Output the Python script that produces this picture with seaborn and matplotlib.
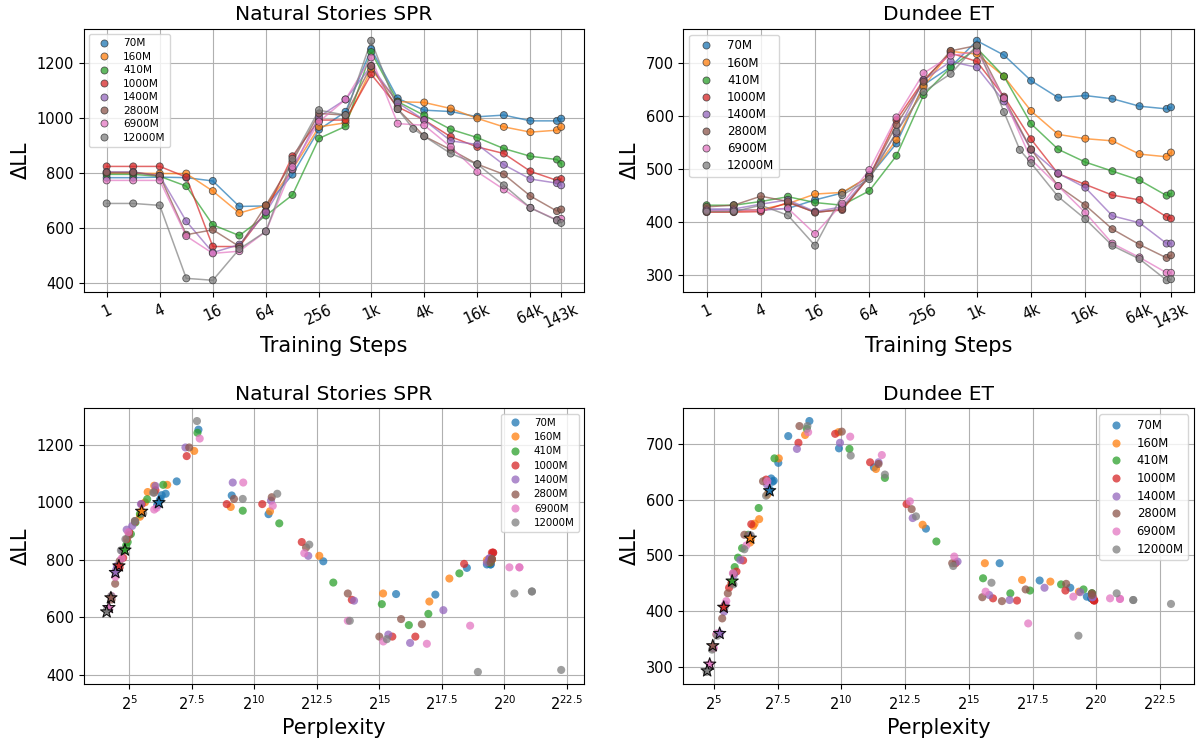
import matplotlib
matplotlib.use("Agg")
import matplotlib.pyplot as plt
import numpy as np
import pandas as pd
import seaborn as sns
from matplotlib.ticker import NullLocator, FixedLocator, FixedFormatter

# ---------------- data ----------------
models = ["70M", "160M", "410M", "1000M", "1400M", "2800M", "6900M", "12000M"]
steps = [1, 2, 4, 8, 16, 32, 64, 128, 256, 512, 1000, 2000, 4000, 8000,
         16000, 32000, 64000, 128000, 143000]
steps_12b = [1, 2, 4, 8, 16, 32, 64, 128, 256, 512, 1000, 2000, 3000, 4000,
             8000, 16000, 32000, 64000, 128000, 143000]

step_ticks = [1, 4, 16, 64, 256, 1000, 4000, 16000, 64000, 143000]
step_tick_labels = ["1", "4", "16", "64", "256", "1k", "4k", "16k", "64k", "143k"]
ppl_tick_exps = [5, 7.5, 10, 12.5, 15, 17.5, 20, 22.5]
ppl_tick_labels = [r"$2^{5}$", r"$2^{7.5}$", r"$2^{10}$", r"$2^{12.5}$",
                   r"$2^{15}$", r"$2^{17.5}$", r"$2^{20}$", r"$2^{22.5}$"]
ns_yticks = [400, 600, 800, 1000, 1200]
dundee_yticks = [300, 400, 500, 600, 700]

# Natural Stories SPR: delta log-likelihood per checkpoint
ns_dll = {
    "70M":    [783, 783, 785, 783, 771, 678, 680, 794, 958, 1023, 1252, 1072, 1029, 1024, 1005, 1011, 990, 990, 998],
    "160M":   [800, 800, 798, 798, 734, 654, 682, 813, 968, 983, 1178, 1060, 1057, 1035, 999, 968, 949, 956, 968],
    "410M":   [795, 795, 788, 752, 611, 572, 645, 720, 926, 970, 1241, 1060, 1010, 959, 929, 889, 861, 849, 833],
    "1000M":  [824, 824, 824, 785, 532, 532, 660, 861, 993, 993, 1160, 1041, 993, 932, 895, 871, 806, 773, 778],
    "1400M":  [804, 804, 790, 624, 510, 539, 657, 813, 1005, 1068, 1190, 1056, 993, 917, 904, 830, 778, 763, 755],
    "2800M":  [802, 802, 790, 575, 593, 532, 682, 842, 1017, 1011, 1190, 1033, 934, 885, 832, 795, 716, 661, 667],
    "6900M":  [773, 773, 773, 570, 507, 515, 587, 822, 987, 1068, 1221, 980, 974, 895, 804, 740, 673, 629, 633],
    "12000M": [689, 689, 682, 416, 409, 523, 587, 852, 1029, 1011, 1282, 1033, 961, 934, 871, 832, 755, 673, 627, 618],
}
# Natural Stories: log2 perplexity per checkpoint
ns_log2_ppl = {
    "70M":    [19.45, 19.45, 19.4, 19.3, 18.5, 17.24, 15.67, 12.76, 10.57, 9.1, 7.77, 6.9, 6.46, 6.3, 6.22, 6.25, 6.15, 6.12, 6.19],
    "160M":   [19.5, 19.5, 19.45, 19.3, 17.8, 17.0, 15.15, 12.6, 10.63, 9.06, 7.6, 6.52, 6.0, 5.74, 5.63, 5.5, 5.43, 5.45, 5.5],
    "410M":   [19.45, 19.45, 19.4, 18.2, 16.96, 16.18, 15.1, 13.16, 11.0, 9.54, 7.73, 6.36, 5.72, 5.43, 5.25, 5.07, 4.94, 4.88, 4.83],
    "1000M":  [19.55, 19.55, 19.5, 18.39, 16.44, 15.52, 13.9, 11.9, 10.32, 8.9, 7.3, 6.05, 5.5, 5.23, 5.0, 4.9, 4.76, 4.62, 4.59],
    "1400M":  [19.4, 19.4, 19.3, 17.56, 16.23, 15.36, 13.99, 12.16, 10.67, 9.14, 7.25, 6.05, 5.47, 5.12, 4.9, 4.72, 4.51, 4.47, 4.45],
    "2800M":  [19.5, 19.5, 19.45, 16.7, 15.87, 15.0, 13.74, 12.07, 10.7, 9.19, 7.4, 6.0, 5.23, 5.0, 4.8, 4.62, 4.44, 4.3, 4.27],
    "6900M":  [20.6, 20.6, 20.2, 18.63, 16.9, 15.16, 13.74, 12.0, 10.74, 9.56, 7.82, 6.1, 6.0, 4.96, 4.7, 4.45, 4.3, 4.2, 4.19],
    "12000M": [21.1, 21.1, 20.4, 22.27, 18.94, 15.3, 13.82, 12.2, 10.92, 9.54, 7.71, 5.96, 5.56, 5.23, 4.85, 4.67, 4.45, 4.28, 4.12, 4.1],
}
# Dundee ET: delta log-likelihood per checkpoint
dundee_dll = {
    "70M":    [423, 423, 423, 426, 442, 455, 486, 548, 658, 692, 741, 714, 666, 634, 638, 632, 618, 613, 616],
    "160M":   [420, 420, 424, 435, 453, 456, 486, 555, 655, 721, 716, 674, 609, 565, 557, 553, 528, 523, 531],
    "410M":   [432, 432, 439, 448, 437, 432, 459, 525, 639, 691, 727, 674, 585, 537, 513, 496, 479, 450, 454],
    "1000M":  [419, 419, 420, 437, 419, 423, 486, 592, 667, 718, 702, 636, 556, 491, 471, 451, 442, 410, 407],
    "1400M":  [425, 425, 434, 442, 420, 429, 489, 567, 667, 702, 691, 627, 536, 492, 465, 412, 399, 360, 360],
    "2800M":  [429, 432, 449, 439, 418, 425, 486, 583, 664, 722, 732, 633, 537, 468, 432, 387, 358, 333, 338],
    "6900M":  [422, 422, 423, 426, 378, 435, 498, 597, 680, 713, 721, 633, 518, 468, 418, 360, 334, 305, 305],
    "12000M": [420, 420, 432, 413, 356, 451, 481, 570, 645, 679, 732, 607, 536, 511, 448, 406, 356, 331, 291, 293],
}
# Dundee: log2 perplexity per checkpoint
dundee_log2_ppl = {
    "70M":    [19.82, 19.82, 19.8, 19.63, 18.98, 17.78, 16.21, 13.32, 11.28, 9.91, 8.75, 7.92, 7.53, 7.35, 7.25, 7.3, 7.2, 7.15, 7.19],
    "160M":   [19.9, 19.9, 19.88, 19.32, 18.2, 17.09, 15.63, 13.19, 11.36, 9.89, 8.58, 7.55, 7.1, 6.78, 6.6, 6.55, 6.45, 6.42, 6.43],
    "410M":   [19.83, 19.83, 19.5, 18.62, 17.4, 16.63, 15.56, 13.73, 11.71, 10.32, 8.65, 7.38, 6.76, 6.35, 6.11, 5.95, 5.82, 5.7, 5.72],
    "1000M":  [19.92, 19.92, 19.9, 18.79, 16.89, 15.95, 14.48, 12.56, 11.13, 9.76, 8.32, 7.05, 6.47, 6.15, 5.89, 5.7, 5.6, 5.42, 5.39],
    "1400M":  [19.85, 19.85, 19.37, 17.97, 16.6, 15.8, 14.56, 12.8, 11.46, 9.95, 8.26, 7.09, 6.4, 6.04, 5.79, 5.45, 5.4, 5.25, 5.23],
    "2800M":  [19.83, 19.83, 18.82, 17.23, 16.3, 15.53, 14.35, 12.76, 11.46, 10.02, 8.36, 6.93, 6.2, 5.77, 5.55, 5.33, 5.1, 4.97, 4.96],
    "6900M":  [20.93, 20.93, 20.54, 19.1, 17.33, 15.66, 14.43, 12.69, 11.59, 10.35, 8.7, 7.1, 6.28, 5.75, 5.49, 5.12, 5.0, 4.84, 4.84],
    "12000M": [21.45, 21.45, 20.8, 22.93, 19.3, 15.89, 14.39, 12.93, 11.71, 10.37, 8.67, 7.05, 6.45, 6.2, 5.77, 5.42, 5.15, 4.93, 4.72, 4.74],
}

# ---------------- build frames ----------------
palette = dict(zip(models, sns.color_palette("tab10", 8)))


def build_frame(dll, lppl):
    rows = []
    for m in models:
        st = steps_12b if m == "12000M" else steps
        for s, d, p in zip(st, dll[m], lppl[m]):
            rows.append((m, s, d, 2.0 ** p))
    return pd.DataFrame(rows, columns=["model", "step", "dll", "ppl"])


ns_df = build_frame(ns_dll, ns_log2_ppl)
dd_df = build_frame(dundee_dll, dundee_log2_ppl)

# ---------------- figure ----------------
fig = plt.figure(figsize=(11.99, 7.38), dpi=100)
ax_tl = fig.add_axes([0.070, 0.604, 0.417, 0.357])
ax_tr = fig.add_axes([0.570, 0.604, 0.426, 0.357])
ax_bl = fig.add_axes([0.070, 0.0725, 0.417, 0.374])
ax_br = fig.add_axes([0.570, 0.0725, 0.426, 0.374])

TICK_FS = 10.5
LABEL_FS = 15
TITLE_FS = 14.6


def style_axes(ax, yticks):
    ax.set_axisbelow(True)
    ax.grid(True, color="#b0b0b0", linewidth=0.8)
    ax.set_yticks(yticks)
    ax.tick_params(axis="both", labelsize=TICK_FS)
    ax.xaxis.set_minor_locator(NullLocator())


def top_panel(ax, df, title, yticks, legend_fs, spacing):
    ax.set_xscale("log", base=2)
    sns.lineplot(data=df, x="step", y="dll", hue="model", hue_order=models,
                 palette=palette, estimator=None, sort=False, legend=False,
                 linewidth=1.1, alpha=0.7, ax=ax)
    sns.scatterplot(data=df, x="step", y="dll", hue="model", hue_order=models,
                    palette=palette, s=26, edgecolor="#333333", linewidth=0.6,
                    alpha=0.75, ax=ax, zorder=3)
    style_axes(ax, yticks)
    ax.xaxis.set_major_locator(FixedLocator(step_ticks))
    ax.xaxis.set_major_formatter(FixedFormatter(step_tick_labels))
    for lab in ax.get_xticklabels():
        lab.set_rotation(25)
    ax.set_title(title, fontsize=TITLE_FS)
    ax.set_xlabel("Training Steps", fontsize=LABEL_FS)
    ax.set_ylabel("ΔLL", fontsize=LABEL_FS)
    h, l = ax.get_legend_handles_labels()
    ax.legend(h, l, loc="upper left", fontsize=legend_fs, labelspacing=spacing)


def bottom_panel(ax, df, title, yticks, legend_fs, spacing):
    ax.set_xscale("log", base=2)
    last = df.groupby("model", sort=False).tail(1)
    rest = df.drop(last.index)
    sns.scatterplot(data=rest, x="ppl", y="dll", hue="model", hue_order=models,
                    palette=palette, s=34, linewidth=0, alpha=0.75, ax=ax)
    sns.scatterplot(data=last, x="ppl", y="dll", hue="model", hue_order=models,
                    palette=palette, s=85, marker="*", edgecolor="black",
                    linewidth=0.8, alpha=0.9, legend=False, ax=ax, zorder=4)
    style_axes(ax, yticks)
    ax.xaxis.set_major_locator(FixedLocator([2.0 ** e for e in ppl_tick_exps]))
    ax.xaxis.set_major_formatter(FixedFormatter(ppl_tick_labels))
    ax.set_title(title, fontsize=TITLE_FS)
    ax.set_xlabel("Perplexity", fontsize=LABEL_FS)
    ax.set_ylabel("ΔLL", fontsize=LABEL_FS)
    h, l = ax.get_legend_handles_labels()
    ax.legend(h, l, loc="upper right", fontsize=legend_fs, labelspacing=spacing)


top_panel(ax_tl, ns_df, "Natural Stories SPR", ns_yticks, 7.6, 0.33)
top_panel(ax_tr, dd_df, "Dundee ET", dundee_yticks, 8.5, 0.35)
bottom_panel(ax_bl, ns_df, "Natural Stories SPR", ns_yticks, 7.4, 0.42)
bottom_panel(ax_br, dd_df, "Dundee ET", dundee_yticks, 8.4, 0.4)

fig.savefig("out.png", dpi=100)
